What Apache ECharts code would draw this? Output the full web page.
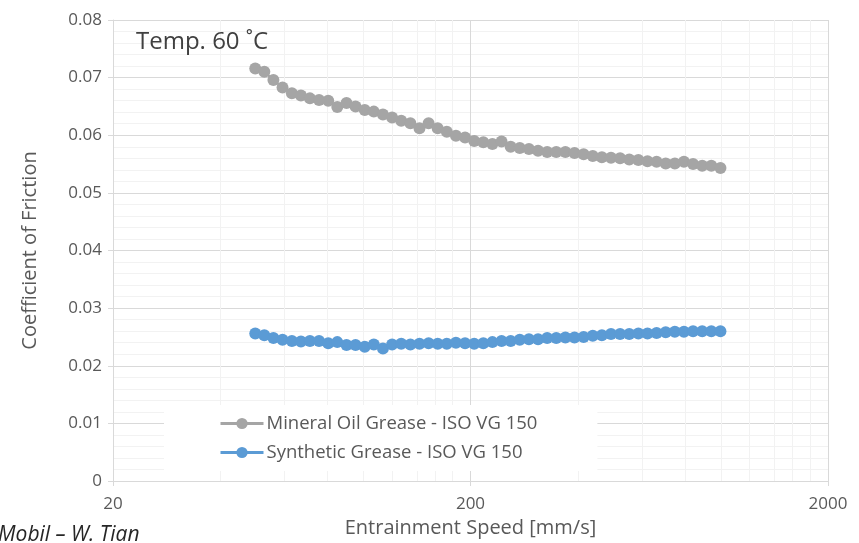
<!DOCTYPE html>
<html><head><meta charset="utf-8">
<script src="https://cdn.jsdelivr.net/npm/echarts@6/dist/echarts.min.js"></script>
<style>html,body{margin:0;padding:0;background:#fff}#c{width:859px;height:543px}</style>
</head><body><div id="c"></div>
<script>
// Entrainment speed [mm/s]
const speeds = [50.0,53.0,56.2,59.6,63.3,67.1,71.1,75.4,80.0,84.8,90.0,95.4,101.2,107.3,113.8,120.7,128.0,135.8,144.0,152.7,161.9,171.7,182.1,193.1,204.8,217.2,230.3,244.3,259.1,274.7,291.4,309.0,327.7,347.5,368.5,390.8,414.5,439.6,466.1,494.3,524.2,556.0,589.6,625.3,663.1,703.2,745.8,790.9,838.7,889.5,943.3,1000.4];
const mineral = [0.0716,0.0710,0.0696,0.0683,0.0673,0.0669,0.0664,0.0661,0.0660,0.0649,0.0656,0.0650,0.0644,0.0641,0.0636,0.0631,0.0625,0.0621,0.0612,0.0621,0.0612,0.0606,0.0599,0.0596,0.0590,0.0588,0.0585,0.0589,0.0580,0.0578,0.0576,0.0573,0.0571,0.0571,0.0571,0.0569,0.0567,0.0564,0.0562,0.0561,0.0560,0.0558,0.0557,0.0555,0.0554,0.0551,0.0551,0.0554,0.0550,0.0547,0.0547,0.0543];
const synthetic = [0.0256,0.0253,0.0248,0.0245,0.0243,0.0242,0.0243,0.0243,0.0239,0.0241,0.0236,0.0236,0.0233,0.0237,0.0230,0.0237,0.0238,0.0237,0.0238,0.0239,0.0238,0.0238,0.0240,0.0239,0.0238,0.0239,0.0241,0.0243,0.0243,0.0245,0.0246,0.0246,0.0248,0.0248,0.0249,0.0249,0.0250,0.0252,0.0253,0.0255,0.0255,0.0255,0.0256,0.0256,0.0257,0.0258,0.0259,0.0259,0.0260,0.0260,0.0260,0.0260];
const seriesNames = ['Mineral Oil Grease - ISO VG 150','Synthetic Grease - ISO VG 150'];
const xMin = 20, xMax = 2000;
const minorTicks = [40,60,80,100,120,140,160,180,400,600,800,1000,1200,1400,1600,1800];
const titleText = 'Temp. 60 ˚C';
const creditText = 'Mobil – W. Tian';
const xName = 'Entrainment Speed [mm/s]';
const yName = 'Coefficient of Friction';

const FONT = 'Open Sans';
const lg = v => Math.log10(v / xMin); // position in decades above xMin
const toPts = arr => speeds.map((s, i) => [lg(s), arr[i]]);

const chart = echarts.init(document.getElementById('c'), null, {renderer: 'canvas'});
chart.setOption({
  animation: false,
  backgroundColor: '#fff',
  textStyle: {fontFamily: FONT},
  grid: {left: 113, right: 31, top: 20, bottom: 62, containLabel: false},
  xAxis: {
    type: 'value', min: 0, max: lg(xMax), interval: 1,
    name: xName, nameLocation: 'middle', nameGap: 37,
    nameTextStyle: {fontFamily: FONT, fontSize: 20, color: '#595959'},
    axisLine: {show: true, onZero: false, lineStyle: {color: '#D9D9D9', width: 1}},
    axisTick: {show: true, length: 5, lineStyle: {color: '#D9D9D9'}},
    axisLabel: {fontFamily: FONT, fontSize: 17, color: '#595959', margin: 15,
      formatter: v => String(Math.round(xMin * Math.pow(10, v)))},
    splitLine: {show: true, lineStyle: {color: '#D9D9D9', width: 1}}
  },
  yAxis: {
    type: 'value', min: 0, max: 0.08, interval: 0.01,
    name: yName, nameLocation: 'middle', nameGap: 73,
    nameTextStyle: {fontFamily: FONT, fontSize: 20, color: '#595959'},
    axisLine: {show: true, lineStyle: {color: '#D9D9D9', width: 1}},
    axisTick: {show: true, length: 5, lineStyle: {color: '#D9D9D9'}},
    axisLabel: {fontFamily: FONT, fontSize: 17, color: '#595959', margin: 11},
    splitLine: {show: true, lineStyle: {color: '#D9D9D9', width: 1}},
    minorTick: {show: false, splitNumber: 5},
    minorSplitLine: {show: true, lineStyle: {color: '#F2F2F2', width: 1}}
  },
  legend: {
    show: true, orient: 'vertical', left: 164, top: 405, z: 10,
    padding: [8, 60, 8, 55], itemGap: 8, itemWidth: 43, itemHeight: 14,
    backgroundColor: '#fff',
    lineStyle: {width: 3},
    textStyle: {fontFamily: FONT, fontSize: 18.5, color: '#595959', lineHeight: 21, padding: [0, 0, 0, -2]},
    data: seriesNames
  },
  graphic: [
    {type: 'text', left: 136, top: 30, z: 100, style: {text: titleText, font: '24px "' + FONT + '"', fill: '#404040'}},
    {type: 'text', left: -2, top: 525, z: 100, style: {text: creditText, font: 'italic 21px "' + FONT + '"', fill: '#262626'}}
  ],
  series: [
    {
      name: 'minor-grid', type: 'line', data: [], silent: true, z: 1,
      markLine: {silent: true, z: 1, symbol: ['none', 'none'], label: {show: false},
        lineStyle: {color: '#F2F2F2', width: 1, type: 'solid'},
        data: minorTicks.map(t => ({xAxis: lg(t)}))}
    },
    {
      name: seriesNames[0], type: 'line', data: toPts(mineral),
      symbol: 'circle', symbolSize: 12, showAllSymbol: true,
      itemStyle: {color: '#A5A5A5'}, lineStyle: {color: '#A5A5A5', width: 2.25}, z: 3
    },
    {
      name: seriesNames[1], type: 'line', data: toPts(synthetic),
      symbol: 'circle', symbolSize: 12, showAllSymbol: true,
      itemStyle: {color: '#5B9BD5'}, lineStyle: {color: '#5B9BD5', width: 2.25}, z: 3
    }
  ]
});
</script></body></html>
